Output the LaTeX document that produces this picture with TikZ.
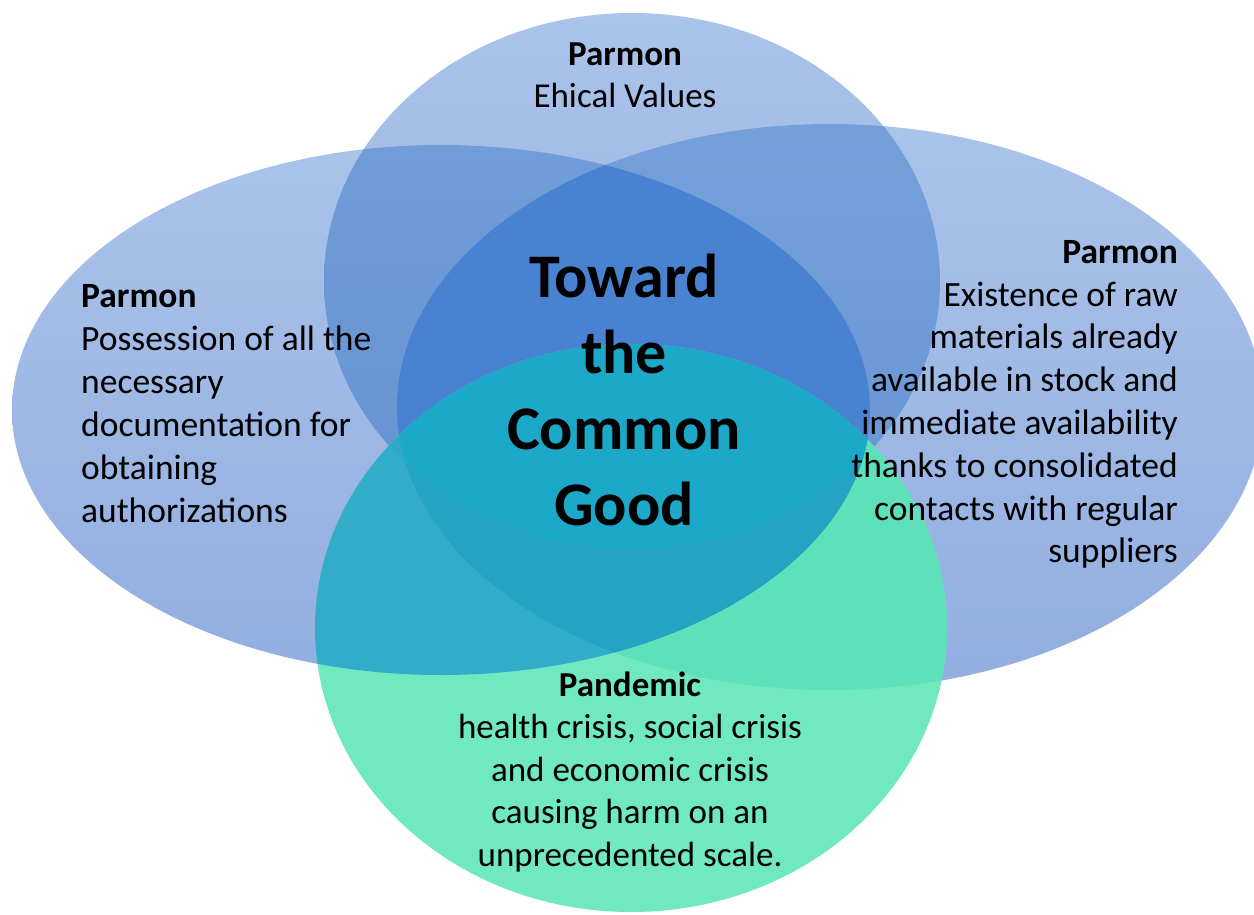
\documentclass[tikz,border=0pt]{standalone}
\usepackage{fontspec}
\setmainfont{Carlito}
\definecolor{blueAt}{RGB}{170,195,234}
\definecolor{blueAb}{RGB}{146,174,224}
\definecolor{blueBt}{RGB}{116,160,218}
\definecolor{blueBb}{RGB}{100,146,210}
\definecolor{blueC}{RGB}{72,130,208}
\definecolor{grnO}{RGB}{112,233,192}
\definecolor{grnR}{RGB}{94,225,186}
\definecolor{grnL}{RGB}{50,172,200}
\definecolor{grnLR}{RGB}{36,163,194}
\definecolor{grnLT}{RGB}{45,170,200}
\definecolor{grnAll}{RGB}{28,168,200}
\tikzset{
  ellL/.style={insert path={(441,410) ellipse [x radius=429pt, y radius=265pt]}},
  ellT/.style={insert path={(632,281) ellipse [x radius=308pt, y radius=268pt]}},
  ellR/.style={insert path={(830,407) ellipse [x radius=433pt, y radius=283pt]}},
  ellG/.style={insert path={(631,628) ellipse [x radius=316pt, y radius=284pt]}},
  singleblue/.style={top color=blueAt, bottom color=blueAb},
  doubleblue/.style={top color=blueBt, bottom color=blueBb},
  txt/.style={inner sep=0pt, text=black},
}
\newcommand{\fstrut}{\rule{0pt}{30pt}}
\begin{document}
\begin{tikzpicture}[x=1pt,y=-1pt]
\useasboundingbox (0,0) rectangle (1254,914);
\fill[white] (0,0) rectangle (1254,914);
\begin{scope}
\clip (0,0) rectangle (1254,914);
% single blue ellipses
\shade[singleblue, ellL];
\shade[singleblue, ellT];
\shade[singleblue, ellR];
% double overlaps
\begin{scope}
  \clip[ellL];
  \shade[doubleblue, ellT];
  \shade[doubleblue, ellR];
\end{scope}
\begin{scope}
  \clip[ellT];
  \shade[doubleblue, ellR];
\end{scope}
% triple overlap
\begin{scope}
  \clip[ellL];
  \clip[ellT];
  \fill[blueC, ellR];
\end{scope}
% green ellipse
\fill[grnO, ellG];
\begin{scope}
  \clip[ellG];
  \fill[grnR, ellR];
  \fill[grnR, ellT];
  \fill[grnL, ellL];
\end{scope}
\begin{scope}
  \clip[ellG];
  \clip[ellL];
  \fill[grnLR, ellR];
  \fill[grnLT, ellT];
\end{scope}
\begin{scope}
  \clip[ellG];
  \clip[ellL];
  \clip[ellT];
  \fill[grnAll, ellR];
\end{scope}
\end{scope}
% texts
\node[txt, anchor=north, align=center, font=\fontsize{35}{42}\selectfont] (topTxt) at (625,35)
  {\fstrut\textbf{Parmon}\\Ehical Values};
\node[txt, anchor=north west, align=left, font=\fontsize{35.5}{43}\selectfont] (leftTxt) at (81,277)
  {\fstrut\textbf{Parmon}\\Possession of all the\\necessary\\documentation for\\obtaining\\authorizations};
\node[txt, anchor=north east, align=right, font=\fontsize{35.5}{42.8}\selectfont] (rightTxt) at (1178,233)
  {\fstrut\textbf{Parmon}\\Existence of raw\\materials already\\available in stock and\\immediate availability\\thanks to consolidated\\contacts with regular\\suppliers};
\node[txt, anchor=north, align=center, font=\fontsize{35}{42.5}\selectfont] (botTxt) at (630,666)
  {\fstrut\textbf{Pandemic}\\health crisis, social crisis\\and economic crisis\\causing harm on an\\unprecedented scale.};
\node[txt, anchor=north, align=center, font=\bfseries\fontsize{62}{76}\selectfont] (midTxt) at (624,247)
  {\rule{0pt}{50pt}Toward\\the\\Common\\Good};
\end{tikzpicture}
\end{document}
